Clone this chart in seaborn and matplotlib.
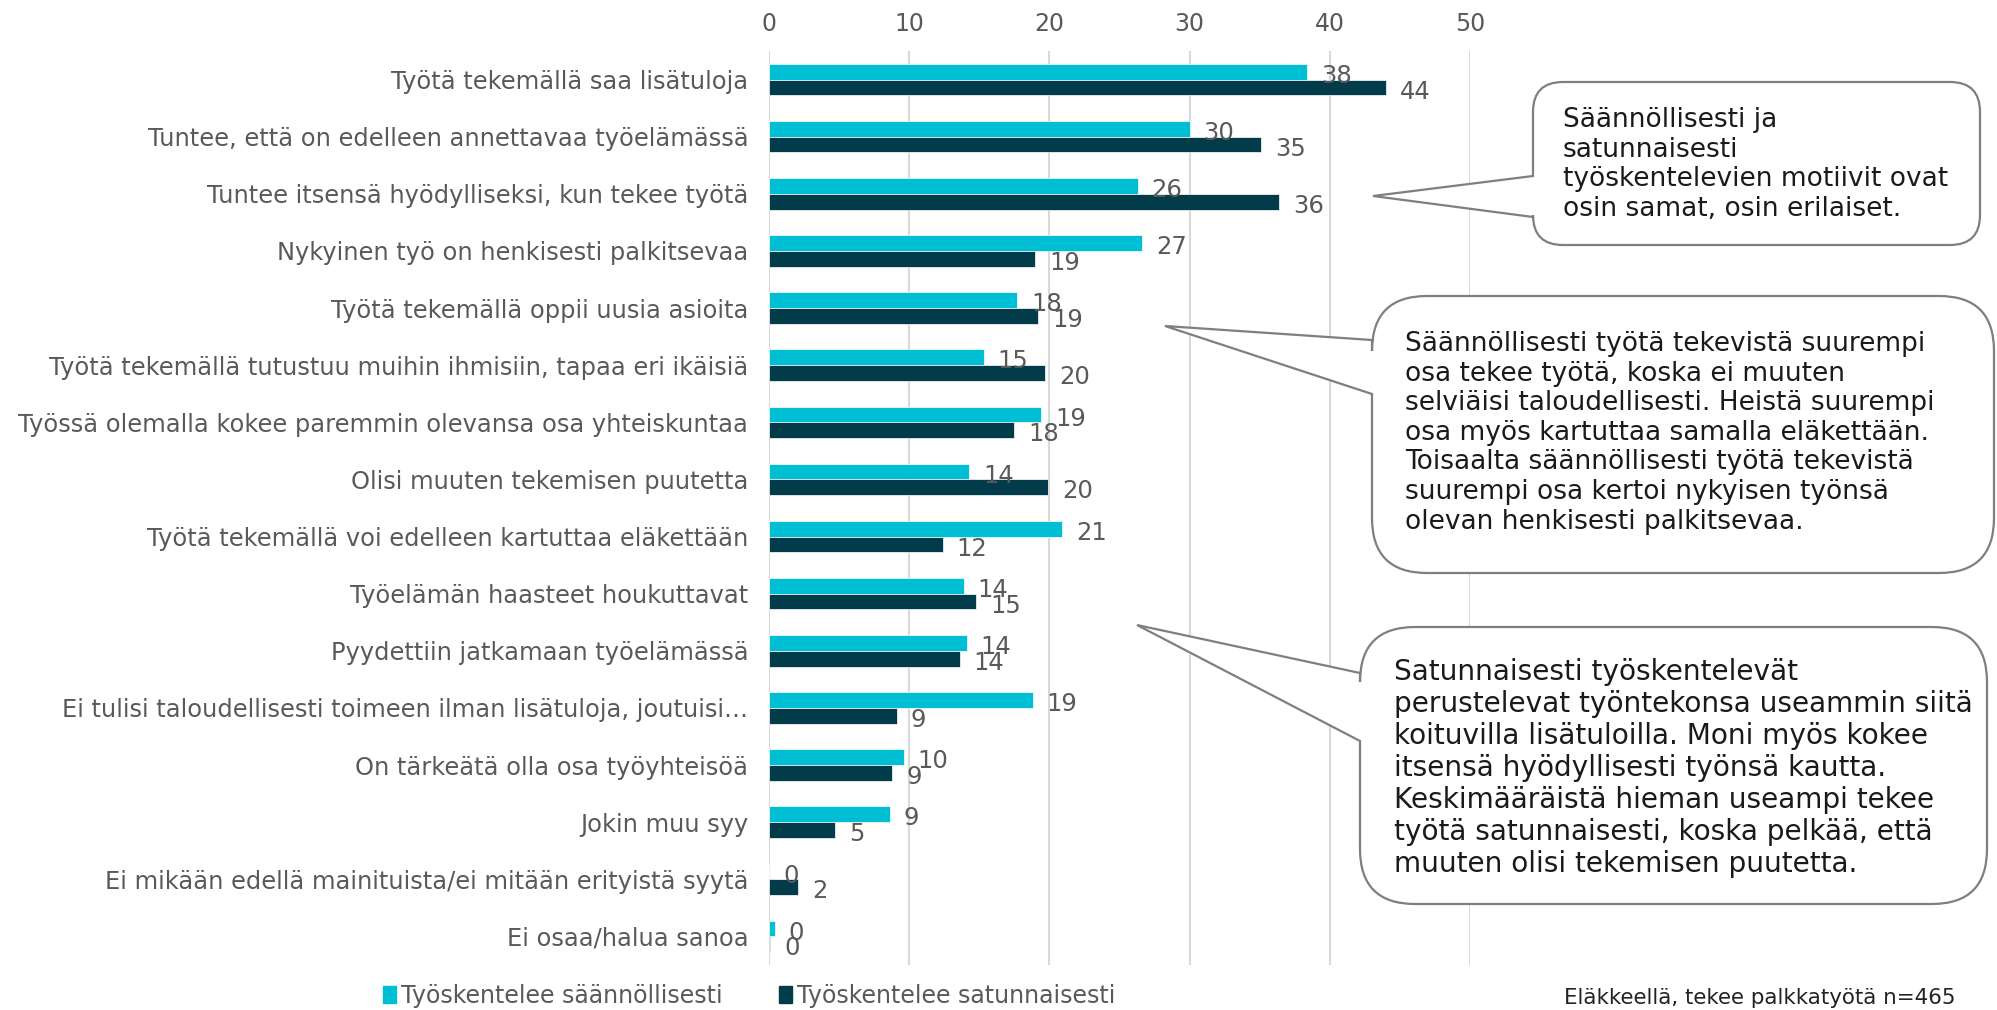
import matplotlib
matplotlib.use('Agg')
from matplotlib import pyplot as plt
from matplotlib.path import Path
from matplotlib.patches import PathPatch
import pandas as pd
import seaborn as sns

# Datos
categories = [
    'Työtä tekemällä saa lisätuloja',
    'Tuntee, että on edelleen annettavaa työelämässä',
    'Tuntee itsensä hyödylliseksi, kun tekee työtä',
    'Nykyinen työ on henkisesti palkitsevaa',
    'Työtä tekemällä oppii uusia asioita',
    'Työtä tekemällä tutustuu muihin ihmisiin, tapaa eri ikäisiä',
    'Työssä olemalla kokee paremmin olevansa osa yhteiskuntaa',
    'Olisi muuten tekemisen puutetta',
    'Työtä tekemällä voi edelleen kartuttaa eläkettään',
    'Työelämän haasteet houkuttavat',
    'Pyydettiin jatkamaan työelämässä',
    'Ei tulisi taloudellisesti toimeen ilman lisätuloja, joutuisi…',
    'On tärkeätä olla osa työyhteisöä',
    'Jokin muu syy',
    'Ei mikään edellä mainituista/ei mitään erityistä syytä',
    'Ei osaa/halua sanoa',
]
saannollisesti = [38.4, 30.0, 26.3, 26.6, 17.7, 15.3, 19.4, 14.3, 20.9, 13.9, 14.1, 18.8, 9.6, 8.6, 0.0, 0.4]
satunnaisesti = [44.0, 35.1, 36.4, 19.0, 19.2, 19.7, 17.5, 19.9, 12.4, 14.8, 13.6, 9.1, 8.8, 4.7, 2.1, 0.1]
series_names = ['Työskentelee säännöllisesti', 'Työskentelee satunnaisesti']
colors = ['#00BFD5', '#023C4B']
x_ticks = [0, 10, 20, 30, 40, 50]
footnote = 'Eläkkeellä, tekee palkkatyötä n=465'

callout_texts = [
    'Säännöllisesti ja\nsatunnaisesti\ntyöskentelevien motiivit ovat\nosin samat, osin erilaiset.',
    'Säännöllisesti työtä tekevistä suurempi\nosa tekee työtä, koska ei muuten\n'
    'selviäisi taloudellisesti. Heistä suurempi\nosa myös kartuttaa samalla eläkettään.\n'
    'Toisaalta säännöllisesti työtä tekevistä\nsuurempi osa kertoi nykyisen työnsä\n'
    'olevan henkisesti palkitsevaa.',
    'Satunnaisesti työskentelevät\nperustelevat työntekonsa useammin siitä\n'
    'koituvilla lisätuloilla. Moni myös kokee\nitsensä hyödyllisesti työnsä kautta.\n'
    'Keskimääräistä hieman useampi tekee\ntyötä satunnaisesti, koska pelkää, että\n'
    'muuten olisi tekemisen puutetta.',
]

df = pd.DataFrame({'kategoria': categories * 2,
                   'arvo': saannollisesti + satunnaisesti,
                   'ryhma': [series_names[0]] * len(categories) + [series_names[1]] * len(categories)})

W, H = 1997, 1010
sns.set_theme(style='white')
plt.rcParams['font.family'] = ['DejaVu Sans']
fig = plt.figure(figsize=(W / 100, H / 100), dpi=100)
ax = fig.add_axes([769 / W, 1 - 965 / H, (1470 - 769) / W, (965 - 51) / H])

sns.barplot(data=df, y='kategoria', x='arvo', hue='ryhma', orient='h', palette=colors,
            saturation=1, width=0.55, ax=ax, edgecolor='white', linewidth=0.5, legend=False)

grey = '#595959'
for c, vals in zip(ax.containers, [saannollisesti, satunnaisesti]):
    anns = ax.bar_label(c, labels=[f'{round(v):.0f}' for v in vals], padding=10,
                        fontsize=17.5, color=grey)
    for a in anns:
        a.xyann = (a.xyann[0], -3)

ax.set_xlim(0, 50)
ax.set_ylim(15.5, -0.5)
ax.set_xticks(x_ticks)
ax.xaxis.tick_top()
ax.tick_params(axis='x', length=0, labelsize=17, labelcolor=grey, pad=11)
ax.tick_params(axis='y', length=0, labelsize=17.4, labelcolor=grey, pad=15)
ax.grid(axis='x', color='#D9D9D9', linewidth=1.5)
ax.set_axisbelow(True)
for s in ax.spines.values():
    s.set_visible(False)
ax.set_xlabel('')
ax.set_ylabel('')

# Leyenda y nota
handles = [plt.Rectangle((0, 0), 1, 1, color=col) for col in colors]
fig.legend(handles, series_names, ncol=2, loc='center left', frameon=False,
           bbox_to_anchor=(362 / W, 1 - 996 / H), fontsize=17, labelcolor=grey,
           handlelength=0.55, handleheight=0.7, handletextpad=0.2, columnspacing=2.4)
fig.text(1955 / W, 1 - 998 / H, footnote, ha='right', va='center', fontsize=15.4, color='#222222')


# Bocadillos (coordenadas en px, y desde arriba)
def callout(left, top, right, bottom, r, tip, b1, b2):
    pts = [(left + r, top), (right - r, top), (right, top), (right, top + r),
           (right, bottom - r), (right, bottom), (right - r, bottom),
           (left + r, bottom), (left, bottom), (left, bottom - r),
           (left, b2), tip, (left, b1), (left, top + r), (left, top), (left + r, top), (left + r, top)]
    codes = [Path.MOVETO, Path.LINETO, Path.CURVE3, Path.CURVE3,
             Path.LINETO, Path.CURVE3, Path.CURVE3,
             Path.LINETO, Path.CURVE3, Path.CURVE3,
             Path.LINETO, Path.LINETO, Path.LINETO, Path.LINETO, Path.CURVE3, Path.CURVE3, Path.CLOSEPOLY]
    verts = [(x / W, 1 - y / H) for x, y in pts]
    patch = PathPatch(Path(verts, codes), facecolor='white', edgecolor='#7F7F7F', linewidth=1.6,
                      transform=fig.transFigure, zorder=5)
    fig.add_artist(patch)


callout(1533, 82, 1980, 245, 30, (1373, 196), 176, 217)
callout(1372, 296, 1994, 573, 55, (1165, 326), 340, 394)
callout(1360, 627, 1987, 904, 55, (1137, 625), 673, 741)

text_pos = [(1563, 107), (1405, 331), (1394, 658)]
text_size = [19, 19, 20.2]
for (x, y), t, fs in zip(text_pos, callout_texts, text_size):
    fig.text(x / W, 1 - y / H, t, ha='left', va='top', fontsize=fs, color='#1A1A1A',
             linespacing=1.18, zorder=6)

plt.savefig('out.png', dpi=100)
